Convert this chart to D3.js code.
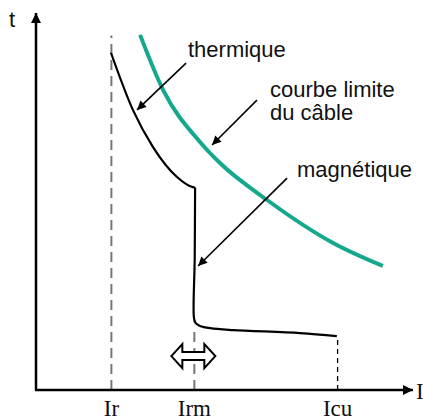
<!DOCTYPE html>
<html lang="fr">
<head>
<meta charset="UTF-8">
<title>Courbe de déclenchement</title>
<style>
  body { margin: 0; background: #fff; }
  .lbl { font-family: "Liberation Sans", Arial, sans-serif; font-size: 22px; fill: #111; }
  .cur { font-family: "Liberation Serif", "Times New Roman", serif; font-size: 23px; fill: #111; }
</style>
</head>
<body>
<div id="chart"></div>
<script src="https://d3js.org/d3.v7.min.js"></script>
<script>
// current markers on the I axis (arbitrary units 0..100)
var currentLabels = ["Ir", "Irm", "Icu"];
var currentValues = [20, 42, 80];

// thermal part of the breaker curve
var thermalI = [19.9, 25.7, 31.0, 37.4, 41.6, 42.2];
var thermalT = [89.4, 74.3, 64.5, 56.5, 53.8, 53.7];

// magnetic drop and tail
var magneticI = [42.2, 42.1, 41.9, 42.3, 43.5, 46.2, 52.3, 70.0, 79.8];
var magneticT = [53.7, 35.0, 19.1, 17.8, 17.0, 16.4, 15.9, 15.1, 14.3];

// cable limit curve
var cableI = [27.6, 33.7, 43.5, 48.8, 61.3, 78.8, 92.0];
var cableT = [94.2, 79.6, 65.8, 60.2, 50.4, 39.0, 32.9];

// annotation arrows: [from I, from t, to I, to t]
var annotNames = ["thermique", "courbe limite", "du câble", "magnétique"];
var annotArrows = [
  [39.8, 86.7, 26.8, 74.3],
  [58.6, 76.9, 46.7, 65.0],
  [66.6, 56.2, 43.0, 32.9]
];

var width = 423, height = 420;
var svg = d3.select("#chart").append("svg")
  .attr("width", width).attr("height", height);

var x = d3.scaleLinear().domain([0, 100]).range([36, 413]);
var y = d3.scaleLinear().domain([0, 100]).range([390, 13]);

var defs = svg.append("defs");
defs.append("marker").attr("id", "axisHead")
  .attr("viewBox", "0 0 10 10").attr("refX", 10).attr("refY", 5)
  .attr("markerWidth", 16).attr("markerHeight", 10).attr("markerUnits", "userSpaceOnUse")
  .attr("orient", "auto")
  .append("path").attr("d", "M0,0 L10,5 L0,10 Z").attr("fill", "#000");
defs.append("marker").attr("id", "pointHead")
  .attr("viewBox", "0 0 10 10").attr("refX", 10).attr("refY", 5)
  .attr("markerWidth", 13).attr("markerHeight", 9).attr("markerUnits", "userSpaceOnUse")
  .attr("orient", "auto")
  .append("path").attr("d", "M0,0 L10,5 L0,10 Z").attr("fill", "#000");

// dashed verticals
svg.append("line")
  .attr("x1", x(currentValues[0])).attr("x2", x(currentValues[0]))
  .attr("y1", y(0)).attr("y2", y(94))
  .attr("stroke", "#777").attr("stroke-width", 2).attr("stroke-dasharray", "10,6");
svg.append("line")
  .attr("x1", x(currentValues[1])).attr("x2", x(currentValues[1]))
  .attr("y1", y(0)).attr("y2", y(17))
  .attr("stroke", "#777").attr("stroke-width", 2).attr("stroke-dasharray", "10,6");
svg.append("line")
  .attr("x1", x(currentValues[2])).attr("x2", x(currentValues[2]))
  .attr("y1", y(0)).attr("y2", y(14.3))
  .attr("stroke", "#000").attr("stroke-width", 1.3).attr("stroke-dasharray", "5,4");

// axes
svg.append("line")
  .attr("x1", x(0)).attr("y1", y(0)).attr("x2", x(0)).attr("y2", y(100))
  .attr("stroke", "#000").attr("stroke-width", 2.5).attr("marker-end", "url(#axisHead)");
svg.append("line")
  .attr("x1", x(0) - 1).attr("y1", y(0)).attr("x2", x(100)).attr("y2", y(0))
  .attr("stroke", "#000").attr("stroke-width", 2.5).attr("marker-end", "url(#axisHead)");

var smooth = d3.line()
  .x(function(d) { return x(d[0]); })
  .y(function(d) { return y(d[1]); })
  .curve(d3.curveMonotoneX);

var line = d3.line()
  .x(function(d) { return x(d[0]); })
  .y(function(d) { return y(d[1]); })
  .curve(d3.curveCatmullRom.alpha(0.5));

svg.append("path")
  .datum(d3.zip(cableI, cableT))
  .attr("d", smooth).attr("fill", "none")
  .attr("stroke", "#14a88c").attr("stroke-width", 4);

svg.append("path")
  .datum(d3.zip(thermalI, thermalT))
  .attr("d", smooth).attr("fill", "none")
  .attr("stroke", "#000").attr("stroke-width", 2.2);

svg.append("path")
  .datum(d3.zip(magneticI, magneticT))
  .attr("d", line).attr("fill", "none")
  .attr("stroke", "#000").attr("stroke-width", 2.2);

// annotation arrows
svg.selectAll(".annot").data(annotArrows).enter().append("line")
  .attr("class", "annot")
  .attr("x1", function(d) { return x(d[0]); }).attr("y1", function(d) { return y(d[1]); })
  .attr("x2", function(d) { return x(d[2]); }).attr("y2", function(d) { return y(d[3]); })
  .attr("stroke", "#000").attr("stroke-width", 1.6).attr("marker-end", "url(#pointHead)");

// hollow double arrow around Irm
var dbl = svg.append("g")
  .attr("transform", "translate(" + (x(currentValues[1]) - 1) + "," + y(9) + ")");
dbl.append("path")
  .attr("d", "M-22,0 L-11,-12 L-11,-4 L11,-4 L11,-12 L22,0 L11,12 L11,4 L-11,4 L-11,12 Z")
  .attr("fill", "#fff").attr("stroke", "#000").attr("stroke-width", 2);

// texts
svg.append("text").attr("class", "lbl").attr("x", 9).attr("y", 27).text("t");
svg.append("text").attr("class", "cur").attr("x", 416).attr("y", 399).text("I");

svg.selectAll(".cur-lbl").data(currentLabels).enter().append("text")
  .attr("class", "cur")
  .attr("x", function(d, i) { return x(currentValues[i]); })
  .attr("y", 416)
  .attr("text-anchor", "middle")
  .text(function(d) { return d; });

svg.append("text").attr("class", "lbl").attr("x", 188).attr("y", 57).text(annotNames[0]);
svg.append("text").attr("class", "lbl").attr("x", 270).attr("y", 97).text(annotNames[1]);
svg.append("text").attr("class", "lbl").attr("x", 270).attr("y", 120).text(annotNames[2]);
svg.append("text").attr("class", "lbl").attr("x", 297).attr("y", 177).text(annotNames[3]);
</script>
</body>
</html>
